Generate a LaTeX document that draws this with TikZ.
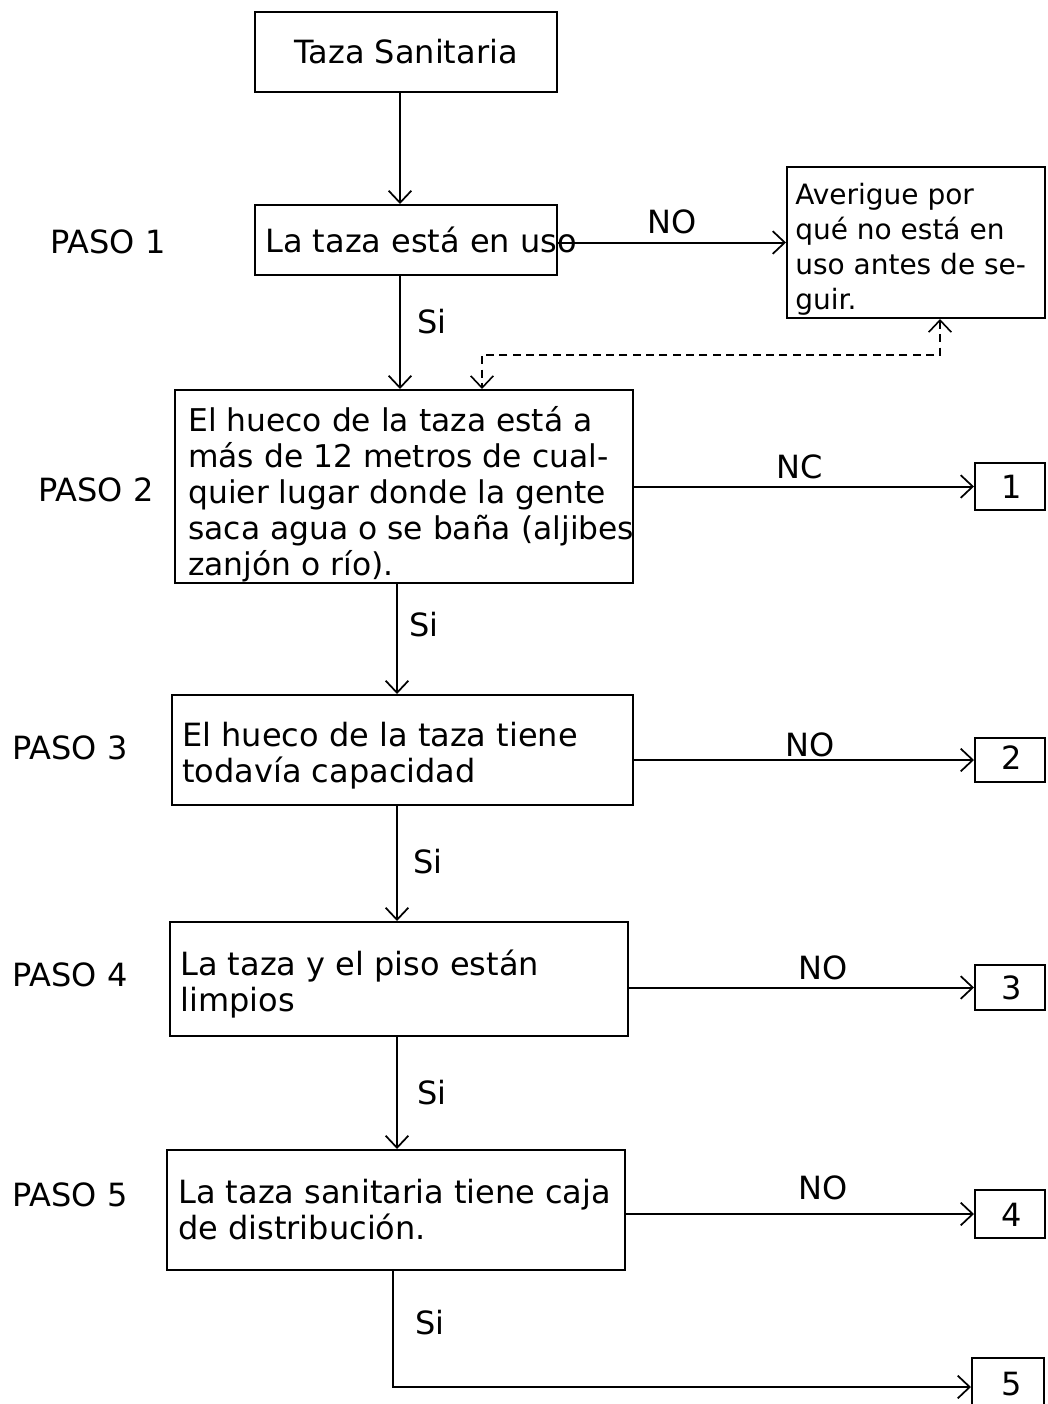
\documentclass[tikz,border=0pt]{standalone}
\usepackage{fontspec}
\setmainfont{DejaVu Sans}
\usetikzlibrary{arrows.meta,fit}
\begin{document}
\begin{tikzpicture}[x=0.75pt,y=-0.75pt,
  box/.style={draw,line width=1.5pt,inner sep=0pt,rectangle},
  txt/.style={inner sep=0pt,anchor=west,align=left,font=\fontsize{24}{27}\selectfont},
  lbl/.style={inner sep=0pt,font=\fontsize{24}{27}\selectfont},
  arr/.style={line width=1.5pt,-{Straight Barb[length=9pt,width=17pt,line width=1.3pt]}},
  darr/.style={line width=1.3pt,dash pattern=on 6pt off 4pt,{Straight Barb[length=9pt,width=17pt,line width=1.2pt]}-{Straight Barb[length=9pt,width=17pt,line width=1.2pt]}},
]
\clip (0,0) rectangle (1047,1404);
\fill[white] (0,0) rectangle (1047,1404);

% boxes
\node[box,fit={(255,12)(557,92)}] (taza) {};
\node[lbl] (tazat) at (taza.center) {Taza Sanitaria};

\node[box,fit={(255,205)(557,275)}] (p1) {};
\node[txt] (p1t) at (265,240) {La taza está en uso};

\node[box,fit={(787,167)(1045,318)}] (ave) {};
\node[txt,font=\fontsize{21}{26.25}\selectfont] (avet) at (795,249) {Averigue por\\qué no está en\\uso antes de se-\\guir.};

\node[box,fit={(175,390)(633,583)}] (p2) {};
\node[txt,font=\fontsize{23.5}{27}\selectfont] (p2t) at (188,494) {El hueco de la taza está a\\más de 12 metros de cual-\\quier lugar donde la gente\\saca agua o se baña (aljibes\\zanjón o río).};

\node[box,fit={(172,695)(633,805)}] (p3) {};
\node[txt] (p3t) at (182,756) {El hueco de la taza tiene\\todavía capacidad};

\node[box,fit={(170,922)(628,1036)}] (p4) {};
\node[txt] (p4t) at (180,984) {La taza y el piso están\\limpios};

\node[box,fit={(167,1150)(625,1270)}] (p5) {};
\node[txt] (p5t) at (178,1210) {La taza sanitaria tiene caja\\de distribución.};

% result boxes
\node[box,fit={(975,463)(1045,510)}] (b1) {};
\node[lbl] at (1012,487) {1};
\node[box,fit={(975,738)(1045,782)}] (b2) {};
\node[lbl] at (1012,758) {2};
\node[box,fit={(975,965)(1045,1010)}] (b3) {};
\node[lbl] at (1012,988) {3};
\node[box,fit={(975,1190)(1045,1238)}] (b4) {};
\node[lbl] at (1012,1215) {4};
\node[box,fit={(972,1358)(1044,1416)}] (b5) {};
\node[lbl] at (1012,1384) {5};

% step labels
\node[lbl,anchor=west] (s1) at (50,242) {PASO 1};
\node[lbl,anchor=west] (s2) at (38,490) {PASO 2};
\node[lbl,anchor=west] (s3) at (12,748) {PASO 3};
\node[lbl,anchor=west] (s4) at (12,975) {PASO 4};
\node[lbl,anchor=west] (s5) at (12,1195) {PASO 5};

% connectors
\coordinate (cx1) at (400,0);
\coordinate (cx2) at (397,0);
\coordinate (cx3) at (393,0);
\draw[arr] (taza.south -| cx1) -- (p1.north -| cx1);
\draw[arr] (p1.south -| cx1) -- (p2.north -| cx1);
\draw[arr] (p2.south -| cx2) -- (p3.north -| cx2);
\draw[arr] (p3.south -| cx2) -- (p4.north -| cx2);
\draw[arr] (p4.south -| cx2) -- (p5.north -| cx2);
\draw[arr] (p5.south -| cx3) |- (b5.west);

\draw[arr] (p1.east |- ave.west) -- (ave.west);
\draw[arr] (p2.east |- b1.west) -- (b1.west);
\draw[arr] (p3.east |- b2.west) -- (b2.west);
\draw[arr] (p4.east |- b3.west) -- (b3.west);
\draw[arr] (p5.east |- b4.west) -- (b4.west);

\coordinate (dA) at (940,355);
\coordinate (dB) at (482,355);
\draw[darr] (ave.south -| dA) -- (dA) -- (dB) -- (p2.north -| dB);

% edge labels
\node[lbl] (l1) at (672,222) {NO};
\node[lbl] (l2) at (432,322) {Si};
\node[lbl] (l3) at (800,467) {NC};
\node[lbl] (l4) at (424,625) {Si};
\node[lbl] (l5) at (810,745) {NO};
\node[lbl] (l6) at (428,862) {Si};
\node[lbl] (l7) at (823,968) {NO};
\node[lbl] (l8) at (432,1093) {Si};
\node[lbl] (l9) at (823,1188) {NO};
\node[lbl] (l10) at (430,1323) {Si};
\end{tikzpicture}
\end{document}
